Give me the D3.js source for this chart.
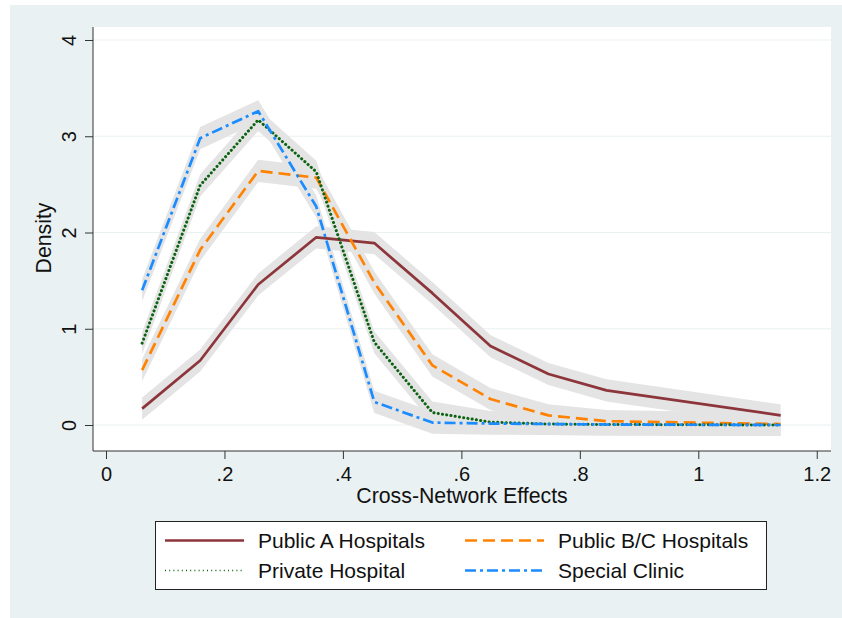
<!DOCTYPE html>
<html>
<head>
<meta charset="utf-8">
<script src="https://cdn.jsdelivr.net/npm/d3@7"></script>
<style>
  body { margin: 0; background: #fff; }
  text { font-family: "Liberation Sans", Arial, sans-serif; fill: #111; }
</style>
</head>
<body>
<div id="chart"></div>
<script>
// bin midpoints of cross-network effects
var xs = [0.061, 0.159, 0.257, 0.355, 0.453, 0.551, 0.649, 0.747, 0.845, 1.139];

// density per group
var publicA  = [0.17, 0.67, 1.46, 1.95, 1.89, 1.37, 0.82, 0.53, 0.36, 0.10];
var publicBC = [0.57, 1.82, 2.64, 2.57, 1.48, 0.62, 0.27, 0.10, 0.04, 0.01];
var privateH = [0.85, 2.49, 3.17, 2.63, 0.86, 0.13, 0.03, 0.01, 0.005, 0.0];
var special  = [1.40, 2.98, 3.26, 2.27, 0.24, 0.025, 0.015, 0.01, 0.005, 0.0];

// half width of the grey confidence band
var bandHalf = 0.115;

var xTicks = [0, 0.2, 0.4, 0.6, 0.8, 1, 1.2];
var xTickLabels = ["0", ".2", ".4", ".6", ".8", "1", "1.2"];
var yTicks = [0, 1, 2, 3, 4];

var series = [
  { name: "Public A Hospitals",   values: publicA,  color: "#8c353b", dash: null,       cap: "butt" },
  { name: "Public B/C Hospitals", values: publicBC, color: "#ff8200", dash: "12,6",     cap: "butt" },
  { name: "Private Hospital",     values: privateH, color: "#0b6312", dash: "0.1,4.2",  cap: "round" },
  { name: "Special Clinic",       values: special,  color: "#1a8cff", dash: "11,4,3,4", cap: "butt" }
];

var width = 842, height = 618;
var plot = { left: 93, right: 831, top: 27, bottom: 451 };
var fontTick = 20, fontTitle = 21.3, fontLegend = 21;

var svg = d3.select("#chart").append("svg")
    .attr("width", width)
    .attr("height", height);

// outer graph region
svg.append("rect")
    .attr("x", 10).attr("y", 5)
    .attr("width", width - 10).attr("height", height - 5)
    .attr("fill", "#eaf1f3");

svg.append("rect")
    .attr("x", plot.left).attr("y", plot.top)
    .attr("width", plot.right - plot.left).attr("height", plot.bottom - plot.top)
    .attr("fill", "#fff");

var x = d3.scaleLinear().domain([0, 1]).range([106, 698.3]);
var y = d3.scaleLinear().domain([0, 4]).range([425, 40]);

// gridlines
svg.append("g").selectAll("line")
    .data(yTicks)
    .enter().append("line")
    .attr("x1", plot.left).attr("x2", plot.right)
    .attr("y1", function(d) { return y(d); })
    .attr("y2", function(d) { return y(d); })
    .attr("stroke", "#eaf1f3")
    .attr("stroke-width", 1.2);

// bands
var area = d3.area()
    .x(function(d, i) { return x(xs[i]); })
    .y0(function(d) { return y(d - bandHalf); })
    .y1(function(d) { return y(d + bandHalf); });

svg.append("g").selectAll("path")
    .data(series)
    .enter().append("path")
    .attr("d", function(s) { return area(s.values); })
    .attr("fill", "#e4e4e4");

// lines
var line = d3.line()
    .x(function(d, i) { return x(xs[i]); })
    .y(function(d) { return y(d); });

svg.append("g").selectAll("path")
    .data(series)
    .enter().append("path")
    .attr("d", function(s) { return line(s.values); })
    .attr("fill", "none")
    .attr("stroke", function(s) { return s.color; })
    .attr("stroke-width", function(s) { return s.cap === "round" ? 3 : 2.7; })
    .attr("stroke-dasharray", function(s) { return s.dash; })
    .attr("stroke-linecap", function(s) { return s.cap; })
    .attr("stroke-linejoin", "round");

// x axis
var xAxis = d3.axisBottom(x)
    .tickValues(xTicks)
    .tickFormat(function(d, i) { return xTickLabels[i]; })
    .tickSize(8)
    .tickSizeOuter(0);

var gx = svg.append("g")
    .attr("transform", "translate(0," + plot.bottom + ")")
    .call(xAxis);
gx.select(".domain").remove();
gx.append("line")
    .attr("x1", plot.left).attr("x2", plot.right)
    .attr("stroke", "#333").attr("stroke-width", 1);
gx.selectAll(".tick line").attr("stroke", "#333");
gx.selectAll(".tick text")
    .attr("y", 30)
    .attr("dy", null)
    .attr("font-size", fontTick)
    .attr("font-family", "Liberation Sans, Arial, sans-serif")
    .attr("fill", "#111");

// y axis
var yAxis = d3.axisLeft(y)
    .tickValues(yTicks)
    .tickSize(8)
    .tickSizeOuter(0)
    .tickFormat(d3.format("d"));

var gy = svg.append("g")
    .attr("transform", "translate(" + plot.left + ",0)")
    .call(yAxis);
gy.select(".domain").remove();
gy.append("line")
    .attr("y1", plot.top).attr("y2", plot.bottom)
    .attr("stroke", "#333").attr("stroke-width", 1);
gy.selectAll(".tick line").attr("stroke", "#333");
gy.selectAll(".tick text")
    .attr("x", null).attr("dy", null)
    .attr("text-anchor", "middle")
    .attr("transform", "translate(-17.5,0) rotate(-90)")
    .attr("font-size", fontTick)
    .attr("font-family", "Liberation Sans, Arial, sans-serif")
    .attr("fill", "#111");

// axis titles
svg.append("text")
    .attr("x", 462).attr("y", 503)
    .attr("text-anchor", "middle")
    .attr("font-size", fontTitle)
    .text("Cross-Network Effects");

svg.append("text")
    .attr("transform", "translate(50.5,238) rotate(-90)")
    .attr("text-anchor", "middle")
    .attr("font-size", fontTitle)
    .text("Density");

// legend
var legend = svg.append("g");
legend.append("rect")
    .attr("x", 155.5).attr("y", 521.5)
    .attr("width", 611).attr("height", 68)
    .attr("fill", "#fff")
    .attr("stroke", "#222").attr("stroke-width", 1);

var legendPos = [
  { lx: 165, row: 0 }, { lx: 465, row: 0 },
  { lx: 165, row: 1 }, { lx: 465, row: 1 }
];

var items = legend.selectAll("g.item")
    .data(series)
    .enter().append("g")
    .attr("class", "item")
    .attr("transform", function(d, i) {
      return "translate(" + legendPos[i].lx + "," + (540.5 + legendPos[i].row * 30) + ")";
    });

items.append("line")
    .attr("x1", 0).attr("x2", 79)
    .attr("stroke", function(s) { return s.color; })
    .attr("stroke-width", function(s, i) { return i === 2 ? 1.3 : 2.6; })
    .attr("stroke-dasharray", function(s, i) { return i === 2 ? "1,3.2" : s.dash; });

items.append("text")
    .attr("x", 93).attr("y", 7.5)
    .attr("font-size", fontLegend)
    .text(function(s) { return s.name; });
</script>
</body>
</html>
